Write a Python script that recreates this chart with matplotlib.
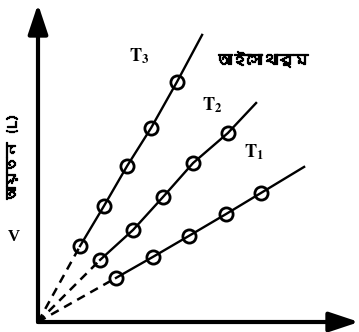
import matplotlib
matplotlib.use("Agg")
import matplotlib.pyplot as plt
import matplotlib.patheffects as pe
from matplotlib import font_manager
from matplotlib.ft2font import FT2Font

# ---- data ----
t3_x = [1.40, 2.20, 2.97, 3.77, 4.63]
t3_y = [2.53, 3.87, 5.20, 6.47, 8.00]
t3_end = [5.47, 9.57]
t2_x = [2.07, 3.17, 4.17, 5.17, 6.33]
t2_y = [2.07, 3.07, 4.17, 5.30, 6.30]
t2_end = [7.27, 7.30]
t1_x = [2.60, 3.83, 5.03, 6.27, 7.43]
t1_y = [1.47, 2.17, 2.87, 3.60, 4.30]
t1_end = [8.87, 5.17]
labels = ["$\\mathbf{T_3}$", "$\\mathbf{T_2}$", "$\\mathbf{T_1}$"]
title_text = "আইসোথার্ম"
ylabel_text = "আয়তন (L)"

# find a font with Bengali glyphs
beng = None
for f in font_manager.fontManager.ttflist:
    try:
        cm = FT2Font(f.fname).get_charmap()
        if 0x0986 in cm and 0x09B8 in cm:
            beng = f.name
            break
    except Exception:
        pass
fam = [beng, "DejaVu Sans"] if beng else ["DejaVu Sans"]
bold = [pe.withStroke(linewidth=0.9, foreground="black")]

plt.rcParams["mathtext.fontset"] = "stix"

fig = plt.figure(figsize=(3.59, 3.32), dpi=100)
ax = fig.add_axes([0, 0, 1, 1])
ax.set_xlim(-1.2667, 10.7)
ax.set_ylim(-0.3333, 10.7333)
ax.axis("off")

# axes with arrows
astyle = "-|>,head_length=1.8,head_width=0.6"
ax.annotate("", xy=(0, 10.6), xytext=(0, 0),
            arrowprops=dict(arrowstyle=astyle, lw=3, color="black",
                            shrinkA=0, shrinkB=0))
ax.annotate("", xy=(10.7, 0), xytext=(0, 0),
            arrowprops=dict(arrowstyle=astyle, lw=3, color="black",
                            shrinkA=0, shrinkB=0))

for xs, ys, end in [(t3_x, t3_y, t3_end), (t2_x, t2_y, t2_end), (t1_x, t1_y, t1_end)]:
    ax.plot([0, xs[0]], [0, ys[0]], color="black", lw=1.8, ls=(0, (3.5, 2.5)))
    ax.plot(xs + [end[0]], ys + [end[1]], color="black", lw=1.7)
    ax.plot(xs, ys, ls="none", marker="o", ms=9.5, mfc="none", mec="black", mew=2)

ax.text(3.37, 8.87, labels[0], fontsize=13, ha="center", va="center")
ax.text(5.80, 7.23, labels[1], fontsize=13, ha="center", va="center")
ax.text(7.20, 5.67, labels[2], fontsize=13, ha="center", va="center")

ax.text(7.47, 8.77, title_text, family=fam, fontsize=11, fontweight="bold",
        ha="center", va="center", path_effects=bold)
ax.text(-0.87, 5.5, ylabel_text, family=fam, fontsize=10.5, fontweight="bold",
        rotation=90, ha="center", va="center", path_effects=bold)
ax.text(-0.80, 2.83, "V", family=["Liberation Serif"], fontsize=12,
        fontweight="bold", ha="center", va="center")

fig.savefig("out.png", dpi=100)
